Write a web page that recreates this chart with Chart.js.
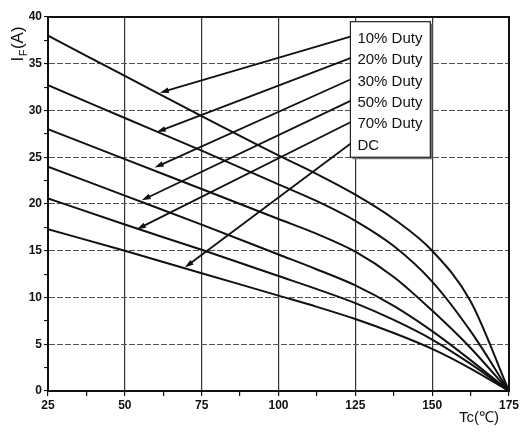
<!DOCTYPE html>
<html>
<head>
<meta charset="utf-8">
<script src="https://cdn.jsdelivr.net/npm/chart.js@4"></script>
<style>
  html, body { margin: 0; padding: 0; background: #fff; }
  #wrap { width: 521px; height: 432px; }
</style>
</head>
<body>
<div id="wrap"><canvas id="chart" width="521" height="432"></canvas></div>
<script>
// ===== DATA =====
const temps = [25, 50, 75, 100, 112.5, 125, 137.5, 150, 162.5, 175];
const duty10 = [38.0, 33.7, 29.4, 25.2, 23.2, 21.0, 18.4, 15.0, 9.6, 0];
const duty20 = [32.7, 29.2, 25.7, 22.1, 20.3, 18.2, 15.5, 11.7, 6.4, 0];
const duty30 = [28.0, 24.8, 21.6, 18.4, 16.8, 14.9, 12.2, 8.6, 4.6, 0];
const duty50 = [24.0, 20.9, 17.8, 14.6, 13.0, 11.3, 9.1, 6.4, 3.3, 0];
const duty70 = [20.6, 17.8, 15.1, 12.3, 10.9, 9.4, 7.6, 5.5, 2.9, 0];
const dutyDC = [17.3, 15.0, 12.6, 10.2, 9.0, 7.7, 6.2, 4.5, 2.4, 0];
const seriesLabels = ["10% Duty", "20% Duty", "30% Duty", "50% Duty", "70% Duty", "DC"];

// where each legend arrow lands on its curve (data units)
const arrowTipX = [61.4, 60.4, 59.7, 55.5, 53.9, 69.5];
const arrowTipY = [31.9, 27.7, 23.9, 20.4, 17.3, 13.2];

const xTicks = [25, 50, 75, 100, 125, 150, 175];
const yTicks = [0, 5, 10, 15, 20, 25, 30, 35, 40];

const FONT = "'Liberation Sans', Arial, sans-serif";

function pts(vals) {
  return temps.map((t, i) => ({ x: t, y: vals[i] }));
}

const allSeries = [duty10, duty20, duty30, duty50, duty70, dutyDC];

// ===== ANNOTATIONS =====
function drawArrow(ctx, x0, y0, x1, y1) {
  const ang = Math.atan2(y1 - y0, x1 - x0);
  const len = 9, half = 2.8;
  ctx.beginPath();
  ctx.moveTo(x0, y0);
  ctx.lineTo(x1 - Math.cos(ang) * len * 0.6, y1 - Math.sin(ang) * len * 0.6);
  ctx.stroke();
  ctx.beginPath();
  ctx.moveTo(x1, y1);
  ctx.lineTo(x1 - Math.cos(ang) * len - Math.sin(ang) * half, y1 - Math.sin(ang) * len + Math.cos(ang) * half);
  ctx.lineTo(x1 - Math.cos(ang) * len + Math.sin(ang) * half, y1 - Math.sin(ang) * len - Math.cos(ang) * half);
  ctx.closePath();
  ctx.fill();
}

const annotations = {
  id: "annotations",
  afterDraw(chart) {
    const { ctx, chartArea: a, scales: { x, y } } = chart;
    ctx.save();

    // plot frame
    ctx.strokeStyle = "#111";
    ctx.lineWidth = 2;
    ctx.strokeRect(a.left, a.top, a.right - a.left, a.bottom - a.top);

    // legend box
    const bx0 = x.getPixelForValue(123.4), bx1 = x.getPixelForValue(149.4);
    const by0 = y.getPixelForValue(39.5), by1 = y.getPixelForValue(25.0);
    ctx.fillStyle = "#777";
    ctx.fillRect(bx0 + 2, by0 + 2, bx1 - bx0, by1 - by0);
    ctx.fillStyle = "#fff";
    ctx.fillRect(bx0, by0, bx1 - bx0, by1 - by0);
    ctx.strokeStyle = "#222";
    ctx.lineWidth = 1.2;
    ctx.strokeRect(bx0, by0, bx1 - bx0, by1 - by0);

    const rowTop = by0 + 16;
    const rowGap = 21.4;
    ctx.fillStyle = "#111";
    ctx.font = "15px " + FONT;
    ctx.textBaseline = "middle";
    ctx.textAlign = "left";
    ctx.strokeStyle = "#111";
    ctx.lineWidth = 1.8;
    seriesLabels.forEach((lab, i) => {
      const ry = rowTop + i * rowGap;
      ctx.fillText(lab, bx0 + 7, ry + 1);
      drawArrow(ctx, bx0, ry - 1, x.getPixelForValue(arrowTipX[i]), y.getPixelForValue(arrowTipY[i]));
    });

    // y title  I_F(A)
    ctx.save();
    ctx.translate(17, 44);
    ctx.rotate(-Math.PI / 2);
    ctx.textBaseline = "alphabetic";
    ctx.textAlign = "left";
    ctx.font = "17px " + FONT;
    const w1 = ctx.measureText("I").width;
    ctx.font = "11px " + FONT;
    const w2 = ctx.measureText("F").width;
    ctx.font = "17px " + FONT;
    const w3 = ctx.measureText("(A)").width;
    let sx = -(w1 + w2 + w3 + 1) / 2;
    ctx.fillText("I", sx, 6);
    ctx.font = "11px " + FONT;
    ctx.fillText("F", sx + w1 + 0.5, 10);
    ctx.font = "17px " + FONT;
    ctx.fillText("(A)", sx + w1 + w2 + 1, 6);
    ctx.restore();

    // x title
    ctx.font = "15px " + FONT;
    ctx.textAlign = "center";
    ctx.textBaseline = "middle";
    ctx.fillText("Tc(\u2103)", 479, 418);

    ctx.restore();
  }
};

// ===== CHART =====
new Chart(document.getElementById("chart"), {
  type: "line",
  data: {
    datasets: allSeries.map((vals, i) => ({
      label: seriesLabels[i],
      data: pts(vals),
      borderColor: "#111",
      borderWidth: 2,
      pointRadius: 0,
      fill: false,
      cubicInterpolationMode: "monotone"
    }))
  },
  options: {
    responsive: false,
    animation: false,
    layout: { padding: { left: 0, top: 17, right: 11, bottom: 0 } },
    plugins: { legend: { display: false }, tooltip: { enabled: false } },
    scales: {
      x: {
        type: "linear",
        min: xTicks[0],
        max: xTicks[xTicks.length - 1],
        afterFit: s => { s.height = 41; },
        ticks: {
          stepSize: 12.5,
          autoSkip: false,
          maxRotation: 0,
          padding: 2,
          color: "#111",
          font: { family: FONT, size: 12, weight: "bold" },
          callback: v => (xTicks.includes(v) ? v : "")
        },
        grid: {
          color: c => (c.tick && xTicks.includes(c.tick.value) ? "#333" : "transparent"),
          tickColor: "#111",
          lineWidth: 1.2,
          tickLength: 5
        },
        border: { color: "#111", width: 2 }
      },
      y: {
        min: yTicks[0],
        max: yTicks[yTicks.length - 1],
        afterFit: s => { s.width = 48; },
        ticks: {
          stepSize: 2.5,
          autoSkip: false,
          padding: 2,
          color: "#111",
          font: { family: FONT, size: 12, weight: "bold" },
          callback: v => (yTicks.includes(v) ? v : "")
        },
        grid: {
          color: c => (c.tick && yTicks.includes(c.tick.value) ? "#555" : "transparent"),
          tickColor: "#111",
          lineWidth: 1.1,
          tickLength: 4
        },
        border: { color: "#111", width: 2, dash: [6, 2] }
      }
    }
  },
  plugins: [annotations]
});
</script>
</body>
</html>
